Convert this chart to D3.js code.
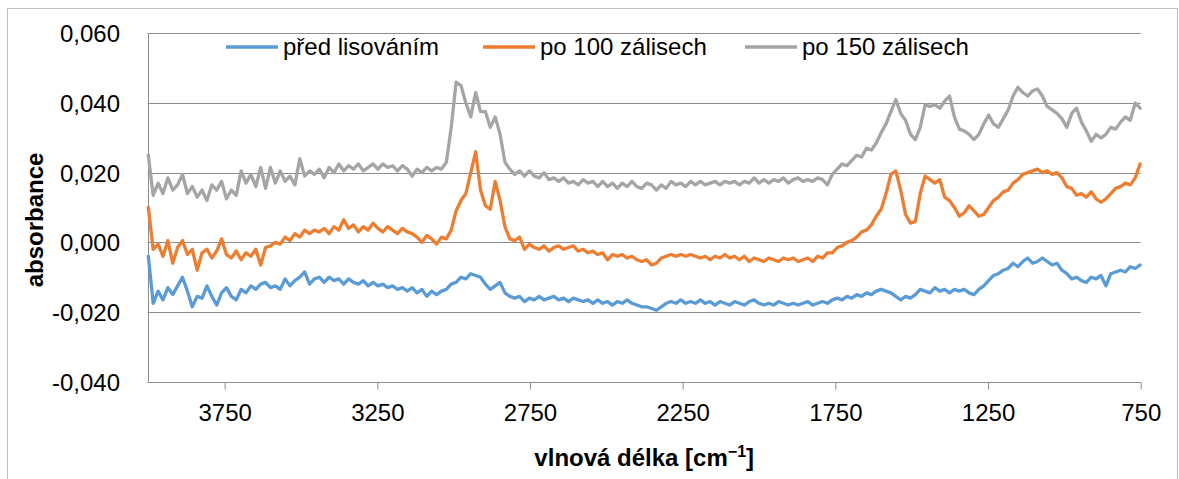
<!DOCTYPE html>
<html>
<head>
<meta charset="utf-8">
<script src="https://cdn.jsdelivr.net/npm/d3@7"></script>
<style>
  body { margin: 0; background: #fff; }
  svg { display: block; }
  text { font-family: "Liberation Sans", Arial, sans-serif; fill: #000; }
</style>
</head>
<body>
<svg id="chart" width="1179" height="479"></svg>
<script>
// FTIR spectra, sampled every 16 cm^-1 from 4000 cm^-1 downwards
const wavenumbers = d3.range(4000, 750, -16);

const seriesNames = ["před lisováním", "po 100 zálisech", "po 150 zálisech"];
const seriesColors = ["#5B9BD5", "#ED7D31", "#A5A5A5"];

// absorbance values in thousandths (×10⁻³)
const beforePressing = [
  -4,-17.5,-14,-16.5,-13,-15,-12.5,-10,-14,-18.5,-15.5,-16,-12.5,-15.5,-18,-14.5,-13,-15.5,-16.5,-13.5,
  -14.5,-12.5,-13.5,-12,-11.5,-13,-12.5,-13.5,-10.5,-12.5,-11,-10,-8.5,-12,-10.5,
  -10,-11.5,-10,-11,-10.5,-12,-10.5,-11.5,-12,-11,-12.5,-11.5,-12.5,-12,-13,-12.5,-13.5,-13,-14,-13,
  -14.5,-13.5,-15.5,-14,-15,-14,-13.5,-12,-11.5,-10,-10.5,-9,-9.5,-10,
  -12,-13.5,-12.5,-11.5,-14.5,-15.5,-16,-15.5,-17,-16,-16.5,-15.5,-16.5,-16,-15.5,-16.5,-16,-17,-16,
  -16.5,-17,-16.5,-17.5,-16.5,-17.5,-17,-18,-17,-17.5,-16.5,-17.5,-18,-18.5,
  -18.5,-19,-19.5,-18.5,-17.5,-17,-17.5,-16.5,-17.5,-17,-17.5,-16.5,-17.5,-17,-18,-17,-17.5,-18,-17,
  -17.5,-18,-17,-16.5,-17.5,-18,-17.5,-18,-17,-17.5,-18,-17.5,-18,-17.5,
  -17,-18,-17.5,-17,-17.5,-16.5,-16,-16.5,-15.5,-16,-15,-15.5,-14.5,-15,-14,-13.5,-14,-14.5,-15.5,
  -16.5,-15.5,-16,-15,-13.5,-14,-14.5,-13,-14,-13.5,-14.5,-13.5,-14,-13.5,-14.5,
  -15,-13.5,-12.5,-11,-9.5,-9,-8,-7.5,-6,-7,-5.5,-4.5,-6,-5.5,-4.5,-5.5,-6.5,-6,-8,-9,-10.5,-10,-11,
  -11.5,-10,-10.5,-9.5,-12.5,-9,-8.5,-8,-8.5,-7,-7.5,-6.5
];

const after100 = [
  10,-2,-0.5,-4,0.5,-6,-1.5,0.5,-3.5,-2,-8,-3,-2,-4.5,-2.5,1,-3.5,-4.5,-2.5,-5,-3,-4,-2,-6.5,-1.5,
  -1,0,-0.5,1.5,0.5,2.5,1.5,3.5,2.5,3.5,
  3,4,2.5,4.5,3.5,6.5,4,5,3,4.5,3.5,5.5,4,3,4.5,3.5,2.5,4,3,2.5,1.5,0,2,1,-0.5,1.5,1,3.5,9,12,14,20,26,
  15,10.5,9.5,17.5,12,4.5,1,0.5,1.5,-2,-0.5,-1.5,-2,-1,-2.5,-1.5,-1,-2,-1.5,-1,-2.5,-2,-3,-2.5,-3.5,
  -3,-5,-3.5,-4,-3.5,-4.5,-4,-5,-5.5,
  -5,-6.5,-6,-4.5,-4,-3.5,-4,-3.5,-4,-3.5,-4,-4.5,-4,-5,-4,-4.5,-3.5,-4.5,-4,-5,-4,-5.5,-4.5,-5,
  -5.5,-4.5,-5,-5.5,-4.5,-5,-4.5,-5.5,-5,
  -4.5,-5.5,-4,-4.5,-3,-3,-1.5,-1,0,0.5,1.5,3,3.5,5,7.5,9.5,14,19.5,20.5,15,8,5.5,6,14,19,18,17,18,
  13,12,10,7.5,8.5,10.5,9,
  7.5,8,10,12,13,14.5,15,17,18,19.5,20,20.5,21,20,20.5,19.5,20,18.5,16,15.5,13.5,14,13,14.5,12.5,
  11.5,12.5,14,15.5,16,17,16.5,18.5,22.5
];

const after150 = [
  25,13.5,17,14,18.5,15,16.5,19.5,14,16,13,15,12,16.5,15,17.5,12.5,15,13.5,20.5,17,19.5,16,21.5,
  15.5,21.5,17,20.5,17.5,19,16.5,24,19,20.5,19.5,
  21,18.5,21.5,20,22.5,20.5,22,21,22.5,20.5,21.5,22.5,21,22.5,21.5,22,20.5,22,21,19,21,20,21.5,20.5,
  21.5,21,23,33,46,45,40,36,43,37.5,
  37.5,33,36,31,23,21,19.5,20.5,19,20.5,19,18.5,20,18,18.5,17.5,18.5,17,17.5,16.5,18,17,17.5,16,
  17.5,16,17,15.5,17,16,17.5,16,15.5,
  17,16.5,15,16.5,15.5,17.5,16.5,17,16,17.5,16.5,17.5,16.5,17,17.5,16.5,17.5,17,17.5,16.5,17.5,17,
  18.5,17,18,17,18,17.5,18.5,17,18,18.5,17.5,
  18,17.5,18.5,18,16.5,19.5,21,22.5,22,23.5,25,24.5,27,26.5,28.5,31.5,34,37.5,41,37,35,31,29.5,33,
  39.5,39,39.5,38.5,40.5,42,36,32.5,32,31,
  29.5,31,34,36.5,34,33,35.5,38,42,44.5,43,42,43.5,44,42,39,38,37,35.5,33,37,38.5,34.5,32,29,31,30,
  31,33,32.5,34.5,36,35,40,38.5
];

const yTicks = [-0.04, -0.02, 0, 0.02, 0.04, 0.06];
const xTicks = [3750, 3250, 2750, 2250, 1750, 1250, 750];

const svg = d3.select("#chart");
const plot = { left: 147.7, right: 1140.7, top: 33.3, bottom: 381.7 };

const x = d3.scaleLinear().domain([4002, 750]).range([plot.left, plot.right]);
const y = d3.scaleLinear().domain([-0.04, 0.06]).range([plot.bottom, plot.top]);

const czech = d3.formatLocale({ decimal: ",", thousands: " ", grouping: [3], currency: ["", " Kč"], minus: "-" });
const fmtY = czech.format(".3f");

// outer chart frame
svg.append("rect")
  .attr("x", 7.5).attr("y", 8.5)
  .attr("width", 1170).attr("height", 490)
  .attr("fill", "none").attr("stroke", "#bfbfbf").attr("stroke-width", 1);

// horizontal gridlines
svg.append("g")
  .selectAll("line")
  .data(yTicks)
  .join("line")
  .attr("x1", plot.left).attr("x2", plot.right)
  .attr("y1", d => Math.round(y(d)) + 0.5).attr("y2", d => Math.round(y(d)) + 0.5)
  .attr("stroke", "#8c8c8c").attr("stroke-width", 1);

// left axis line
svg.append("line")
  .attr("x1", Math.round(plot.left) + 0.5).attr("x2", Math.round(plot.left) + 0.5)
  .attr("y1", plot.top).attr("y2", plot.bottom)
  .attr("stroke", "#8c8c8c");

// y axis labels
const yAxis = d3.axisLeft(y).tickValues(yTicks).tickFormat(fmtY).tickSize(0).tickPadding(0);
const gy = svg.append("g").attr("transform", `translate(120,0)`).call(yAxis);
gy.select(".domain").remove();
gy.selectAll("text")
  .attr("font-size", 24).attr("font-family", "Liberation Sans, Arial, sans-serif")
  .attr("fill", "#000").attr("dy", "0.36em");

// x axis
const xAxis = d3.axisBottom(x).tickValues(xTicks).tickFormat(d3.format("d")).tickSize(7).tickPadding(14);
const gx = svg.append("g").attr("transform", `translate(0,${Math.round(plot.bottom) + 0.5})`).call(xAxis);
gx.select(".domain").attr("stroke", "#8c8c8c").attr("d", `M${plot.left},0H${plot.right}`);
gx.selectAll(".tick line").attr("stroke", "#8c8c8c");
gx.selectAll("text")
  .attr("font-size", 24).attr("font-family", "Liberation Sans, Arial, sans-serif")
  .attr("fill", "#000").attr("dy", "0.71em");

// spectra
const allSeries = [beforePressing, after100, after150];
const line = d3.line()
  .x((d, i) => x(wavenumbers[i]))
  .y(d => y(d / 1000));

svg.append("g")
  .selectAll("path")
  .data(allSeries)
  .join("path")
  .attr("d", d => line(d))
  .attr("fill", "none")
  .attr("stroke", (d, i) => seriesColors[i])
  .attr("stroke-width", 3.3)
  .attr("stroke-linejoin", "round")
  .attr("stroke-linecap", "round");

// legend
const legendX = [226, 483, 745];
const legend = svg.append("g")
  .selectAll("g")
  .data(seriesNames)
  .join("g")
  .attr("transform", (d, i) => `translate(${legendX[i]},47)`);
legend.append("line")
  .attr("x1", 0).attr("x2", 52).attr("y1", 0).attr("y2", 0)
  .attr("stroke", (d, i) => seriesColors[i]).attr("stroke-width", 3.3);
legend.append("text")
  .attr("x", 57).attr("y", 8)
  .attr("font-size", 24)
  .text(d => d);

// axis titles
svg.append("text")
  .attr("transform", "translate(43,220) rotate(-90)")
  .attr("text-anchor", "middle")
  .attr("font-size", 24).attr("font-weight", "bold")
  .text("absorbance");

const xt = svg.append("text")
  .attr("x", (plot.left + plot.right) / 2).attr("y", 466)
  .attr("text-anchor", "middle")
  .attr("font-size", 24).attr("font-weight", "bold");
xt.append("tspan").text("vlnová délka [cm");
xt.append("tspan").attr("font-size", 16).attr("dy", -9).text("−1");
xt.append("tspan").attr("dy", 9).text("]");
</script>
</body>
</html>
